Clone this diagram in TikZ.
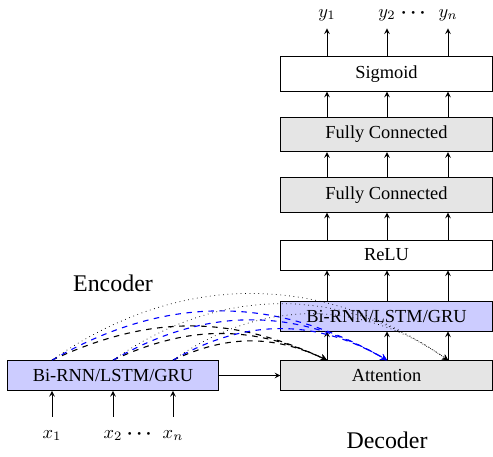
\documentclass[tikz,border=0pt]{standalone}
\usepackage{fontspec}
\setmainfont{Liberation Serif}
\usepackage{amsmath}
\usetikzlibrary{arrows}

\tikzset{
  layer/.style={draw, minimum width=115pt, inner xsep=2pt, inner ysep=4.8pt},
  rnn/.style={layer, fill=blue!20},
  dense/.style={layer, fill=gray!20},
  plain/.style={layer, fill=white},
  xlbl/.style={anchor=base, inner sep=7pt},
  ylbl/.style={anchor=base, inner sep=4pt},
  biglbl/.style={font=\fontsize{13}{15}\selectfont}
}

\begin{document}
\begin{tikzpicture}[x=0.544pt, y=-0.544pt, >=stealth]
  \useasboundingbox (0,0) rectangle (493,456);

  % encoder
  \node[rnn] (enc) at (113,375.5) {Bi-RNN/LSTM/GRU};
  \node[biglbl] (enclbl) at (113,283) {Encoder};

  % decoder stack
  \node[dense] (att) at (386.5,375.5) {Attention};
  \node[rnn] (dec) at (386.5,316) {Bi-RNN/LSTM/GRU};
  \node[plain] (relu) at (386.5,255) {ReLU};
  \node[dense] (fc2) at (386.5,195) {Fully Connected};
  \node[dense] (fc1) at (386.5,134.5) {Fully Connected};
  \node[plain] (sig) at (386.5,74) {Sigmoid};
  \node[biglbl] (declbl) at (387,440) {Decoder};

  % inputs and outputs
  \node[xlbl] (x1) at (52,438) {$x_1$};
  \node[xlbl] (x2) at (113,438) {$x_2$};
  \node[xlbl] (xdots) at (141,438) {$\boldsymbol{\cdots}$};
  \node[xlbl] (xn) at (173,438) {$x_n$};
  \node[ylbl] (y1) at (327,17) {$y_1$};
  \node[ylbl] (y2) at (387,17) {$y_2$};
  \node[ylbl] (ydots) at (415,17) {$\boldsymbol{\cdots}$};
  \node[ylbl] (yn) at (448,17) {$y_n$};

  \draw[->] (x1) -- (x1 |- enc.south);
  \draw[->] (x2) -- (x2 |- enc.south);
  \draw[->] (xn) -- (xn |- enc.south);
  \draw[->] (sig.north -| y1) -- (y1);
  \draw[->] (sig.north -| y2) -- (y2);
  \draw[->] (sig.north -| yn) -- (yn);

  \foreach \a/\b in {att/dec, dec/relu, relu/fc2, fc2/fc1, fc1/sig}
    \foreach \c in {y1,y2,yn}
      \draw[->] (\a.north -| \c) -- (\b.south -| \c);

  \draw[->] (enc) -- (att);

  % attention links
  \draw[semithick,dashed,->] (enc.north -| x1) to[bend left=25] (att.north -| y1);
  \draw[semithick,dashed,->] (enc.north -| x2) to[bend left=25] (att.north -| y1);
  \draw[semithick,dashed,->] (enc.north -| xn) to[bend left=25] (att.north -| y1);
  \draw[semithick,dashed,blue,->] (enc.north -| x1) to[bend left=30] (att.north -| y2);
  \draw[semithick,dashed,blue,->] (enc.north -| x2) to[bend left=30] (att.north -| y2);
  \draw[semithick,dashed,blue,->] (enc.north -| xn) to[bend left=30] (att.north -| y2);
  \draw[dotted,->] (enc.north -| x1) to[bend left=35] (att.north -| yn);
  \draw[dotted,->] (enc.north -| x2) to[bend left=35] (att.north -| yn);
  \draw[dotted,->] (enc.north -| xn) to[bend left=35] (att.north -| yn);
\end{tikzpicture}
\end{document}
